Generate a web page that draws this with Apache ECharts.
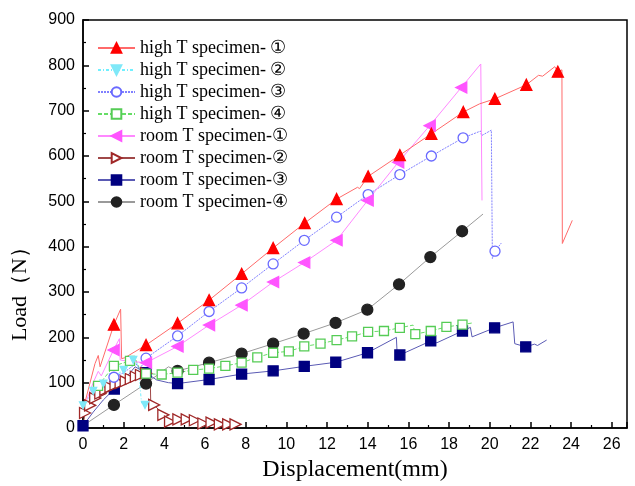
<!DOCTYPE html>
<html>
<head>
<meta charset="utf-8">
<script src="https://cdn.jsdelivr.net/npm/echarts@6/dist/echarts.min.js"></script>
<style>
html, body { margin: 0; padding: 0; background: #fff; }
#chart { width: 635px; height: 486px; }
</style>
</head>
<body>
<div id="chart"></div>
<script>
// [displacement mm, load N, marker?]
var highT1 = [[0,40,0],[0.59,142,0],[0.75,160,0],[0.84,135,0],[1.52,228,1],[1.85,262,0],[1.9,153,0],[2.06,155,0],
    [3.1,183,1],[4.65,231,1],[6.2,282,1],[7.8,340,1],[9.35,397,1],[10.9,452,1],[12.47,505,1],[13.5,531,0],[13.6,528,0],
    [14.02,555,1],[15.58,602,1],[17.13,649,1],[18.7,697,1],[19.5,715,0],[20.25,726,1],[21.8,757,1],[22.4,778,0],
    [22.6,776,0],[23.2,797,0],[23.35,786,1],[23.55,790,0],[23.57,407,0],[24.06,458,0]];
var highT2 = [[0,50,1],[0.3,68,0],[0.5,82,1],[1.0,98,1],[1.5,112,1],[2.0,128,1],[2.47,150,1],[2.7,140,0],
    [2.88,55,0],[3.05,51,1],[3.3,52,0]];
var highT3 = [[0,30,0],[0.5,62,0],[1.0,90,0],[1.52,112,1],[2.0,122,0],[2.6,142,0],[2.8,130,0],[3.1,154,1],
    [4.65,203,1],[6.2,257,1],[7.8,309,1],[9.35,362,1],[10.88,414,1],[12.47,465,1],[14.02,515,1],[15.58,559,1],
    [17.13,600,1],[18.69,640,1],[19.55,655,0],[19.6,645,0],[20.08,657,0],[20.13,374,0],[20.26,390,1],[20.57,408,0]];
var highT4 = [[0,35,0],[0.3,60,0],[0.74,93,1],[1.52,137,1],[2.31,148,1],[2.6,150,0],[2.8,128,0],[3.1,120,1],
    [3.87,118,1],[4.65,122,1],[5.42,128,1],[6.2,131,1],[7.0,137,1],[7.8,144,1],[8.57,156,1],[9.35,166,1],
    [10.12,169,1],[10.88,180,1],[11.68,186,1],[12.47,194,1],[13.23,202,1],[14.02,212,1],[14.8,214,1],[15.58,221,1],
    [16.23,227,0],[16.34,207,1],[17.1,214,1],[17.87,223,1],[18.66,228,1],[19.18,232,0]];
var roomT1 = [[0,40,0],[0.5,100,0],[0.75,125,0],[0.9,115,0],[1.5,172,1],[1.79,197,0],[1.83,150,0],[2.1,148,0],
    [3.1,144,1],[4.65,180,1],[6.2,227,1],[7.8,271,1],[9.35,322,1],[10.88,365,1],[12.47,414,1],[14.0,502,1],
    [15.5,586,1],[17.05,667,1],[18.6,751,1],[19.56,803,0],[19.62,502,0]];
var roomT2 = [[0,5,0],[0.1,33,1],[0.35,50,1],[0.6,66,1],[0.85,76,1],[1.1,84,1],[1.35,90,1],[1.6,95,1],[1.85,99,1],
    [2.1,103,1],[2.35,108,1],[2.6,113,1],[2.85,117,1],[3.1,121,1],[3.3,124,0],[3.33,57,0],[3.5,51,1],[3.95,29,1],
    [4.28,14,1],[4.69,19,1],[5.1,19,1],[5.5,17,1],[5.92,10,1],[6.32,12,1],[6.73,8,1],[7.14,8,1],[7.5,8,1]];
var roomT3 = [[0,5,1],[0.5,35,0],[1.0,62,0],[1.54,86,1],[2.0,105,0],[2.56,135,0],[3.1,122,1],[3.62,106,0],
    [4.2,100,0],[4.65,98,1],[6.2,107,1],[7.8,119,1],[9.35,126,1],[10.88,136,1],[12.43,145,1],[13.99,166,1],
    [15.41,200,0],[15.45,161,0],[15.58,161,1],[17.1,192,1],[17.4,188,0],[18.66,214,1],[19.05,222,0],[19.13,201,0],
    [20.24,221,1],[21.15,234,0],[21.23,186,0],[21.77,179,1],[22.2,185,0],[22.35,182,0],[22.8,194,0]];
var roomT4 = [[0,5,0],[1.52,51,1],[3.1,98,1],[3.6,115,0],[4.2,135,0],[4.65,126,1],[6.2,144,1],[7.8,164,1],
    [9.35,186,1],[10.85,208,1],[12.42,232,1],[13.98,261,1],[15.54,317,1],[17.08,377,1],[18.64,434,1],[19.67,472,0]];

var names = ['high T specimen- \u2460', 'high T specimen- \u2461', 'high T specimen- \u2462', 'high T specimen- \u2463',
    'room T specimen-\u2460', 'room T specimen-\u2461', 'room T specimen-\u2462', 'room T specimen-\u2463'];

function pts(arr) {
    return arr.map(function (p) {
        return p[2] ? { value: [p[0], p[1]] } : { value: [p[0], p[1]], symbol: 'none' };
    });
}

function line(name, arr, lineColor, lineType, symbol, size, rotate, fill, border) {
    return {
        name: name,
        type: 'line',
        data: pts(arr),
        symbol: symbol,
        symbolSize: size,
        symbolRotate: rotate,
        showAllSymbol: true,
        animation: false,
        lineStyle: { color: lineColor, width: 1, type: lineType },
        itemStyle: { color: fill, borderColor: border, borderWidth: 1.3 }
    };
}

var chart = echarts.init(document.getElementById('chart'));
var font = 'Liberation Sans, Arial, sans-serif';
var serif = 'Liberation Serif, Times New Roman, serif';

chart.setOption({
    animation: false,
    grid: {
        left: 83, right: 8, top: 20, bottom: 58,
        outerBoundsMode: 'none',
        show: true, borderColor: '#000', borderWidth: 1.5
    },
    legend: {
        orient: 'vertical',
        left: 97,
        top: 39,
        padding: 0,
        itemWidth: 37,
        itemHeight: 12,
        itemGap: 4,
        data: names,
        textStyle: { fontFamily: serif, fontSize: 18, color: '#000' }
    },
    graphic: [{
        type: 'text',
        left: 9,
        top: 236,
        rotation: Math.PI / 2,
        style: { text: 'Load\uff08N\uff09', font: '22px ' + serif, fill: '#000' }
    }],
    xAxis: {
        type: 'value',
        min: 0,
        max: 26.75,
        interval: 2,
        name: 'Displacement(mm)',
        nameLocation: 'middle',
        nameGap: 30,
        nameTextStyle: { fontFamily: serif, fontSize: 24, color: '#000' },
        axisLine: { lineStyle: { color: '#000', width: 1.5 } },
        axisTick: { inside: true, length: 6, lineStyle: { color: '#000', width: 1.5 } },
        minorTick: { show: true, splitNumber: 2, length: 3, lineStyle: { color: '#000', width: 1.2 } },
        axisLabel: { fontFamily: font, fontSize: 16, color: '#000', margin: 9, showMaxLabel: false },
        splitLine: { show: false }
    },
    yAxis: {
        type: 'value',
        min: 0,
        max: 900,
        interval: 100,
        axisLine: { show: true, lineStyle: { color: '#000', width: 1.5 } },
        axisTick: { show: true, inside: true, length: 6, lineStyle: { color: '#000', width: 1.5 } },
        minorTick: { show: true, splitNumber: 2, length: 3, lineStyle: { color: '#000', width: 1.2 } },
        axisLabel: { fontFamily: font, fontSize: 16, color: '#000', margin: 8 },
        splitLine: { show: false }
    },
    series: [
        line(names[7], roomT4, '#9a9a9a', 'solid', 'circle', 11, 0, '#222', '#222'),
        line(names[6], roomT3, '#5a5ab4', 'solid', 'rect', 10, 0, '#000080', '#000080'),
        line(names[5], roomT2, '#a04848', 'solid', 'triangle', 11, -90, '#fff', '#a02828'),
        line(names[3], highT4, '#66dd66', [4, 2], 'rect', 9, 0, '#fff', '#55cc55'),
        line(names[1], highT2, '#70f0ff', [3, 2, 1, 2], 'triangle', 7, 180, '#7fe8f8', '#7fe8f8'),
        line(names[2], highT3, '#8080ff', [2, 1], 'circle', 10, 0, '#fff', '#6a6aff'),
        line(names[4], roomT1, '#ff88ff', 'solid', 'triangle', 11, 90, '#ff55ff', '#ff55ff'),
        line(names[0], highT1, '#ff6a6a', 'solid', 'triangle', 11, 0, '#ff0000', '#ff0000')
    ]
});
</script>
</body>
</html>
